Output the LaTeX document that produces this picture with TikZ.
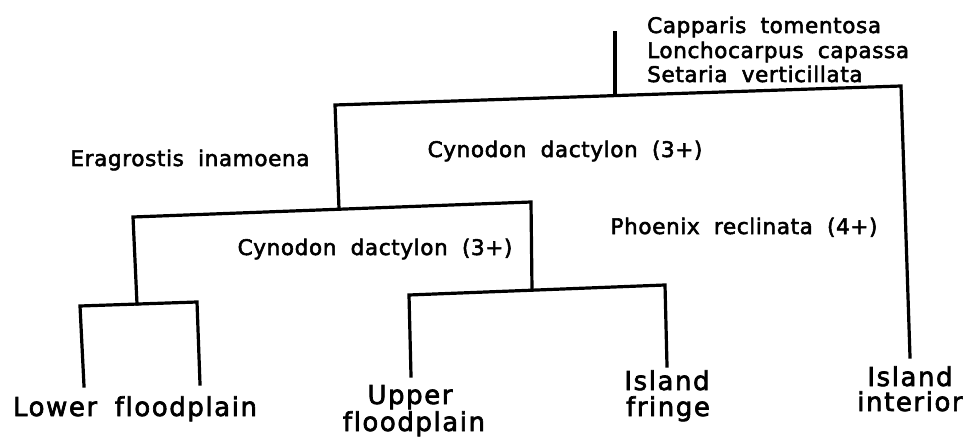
\documentclass[tikz,border=0pt]{standalone}
\usepackage{fontspec}
\setmainfont{DejaVu Sans}[LetterSpace=6,WordSpace=1.8,Ligatures=NoCommon]
\newfontfamily\smallfam{DejaVu Sans}[LetterSpace=3,WordSpace=1.9,Ligatures=NoCommon,FakeBold=2.5]
\newfontfamily\bigfam{DejaVu Sans}[LetterSpace=6,WordSpace=1.8,Ligatures=NoCommon,FakeBold=2.5]
\begin{document}
\begin{tikzpicture}[x=1pt,y=-1pt,
  dend/.style={line width=3.2pt, line join=miter, line cap=rect},
  small/.style={font=\smallfam\fontsize{21.5}{24}\selectfont, inner sep=0pt},
  big/.style={font=\bigfam\fontsize{26}{30}\selectfont, inner sep=0pt}]
\useasboundingbox (0,0) rectangle (965,438);
% junction coordinates
\coordinate (t0) at (615,33);
\coordinate (t1) at (615,95.5);
\coordinate (tl) at (335,105);
\coordinate (tr) at (901,86);
\coordinate (ii) at (910,357);
\coordinate (tlb) at (339,209);
\coordinate (bl) at (133,217);
\coordinate (br) at (531,202);
\coordinate (blb) at (137,304);
\coordinate (lbl) at (80,306);
\coordinate (lbr) at (197,302);
\coordinate (lbl2) at (84,386);
\coordinate (lbr2) at (200,384);
\coordinate (brb) at (532,290);
\coordinate (ubl) at (409,295);
\coordinate (ubr) at (665,285);
\coordinate (ubl2) at (411,376);
\coordinate (ubr2) at (667,366);
% dendrogram
\draw[dend] (t0) -- (t1);
\draw[dend] (tlb) -- (tl) -- (tr) -- (ii);
\draw[dend] (blb) -- (bl) -- (br) -- (brb);
\draw[dend] (lbl2) -- (lbl) -- (lbr) -- (lbr2);
\draw[dend] (ubl2) -- (ubl) -- (ubr) -- (ubr2);
% species labels
\node[small, anchor=base west] (cap) at (647,33) {Capparis tomentosa};
\node[small, anchor=base west] (lon) at (647,58) {Lonchocarpus capassa};
\node[small, anchor=base west] (set) at (647,82) {Setaria verticillata};
\node[small, anchor=base] (era) at (190,166) {Eragrostis inamoena};
\node[small, anchor=base] (cyn1) at (565,157) {Cynodon dactylon (3+)};
\node[small, anchor=base] (cyn2) at (375,255) {Cynodon dactylon (3+)};
\node[small, anchor=base] (pho) at (744,234) {Phoenix reclinata (4+)};
% site labels
\node[big, anchor=base] (low) at (135,416) {Lower floodplain};
\node[big, anchor=base] (up1) at (410,404) {Upper};
\node[big, anchor=base] (up2) at (414,431) {floodplain};
\node[big, anchor=base] (if1) at (667,390) {Island};
\node[big, anchor=base] (if2) at (668,416) {fringe};
\node[big, anchor=base] (ii1) at (910,386) {Island};
\node[big, anchor=base] (ii2) at (910,411) {interior};
\end{tikzpicture}
\end{document}
